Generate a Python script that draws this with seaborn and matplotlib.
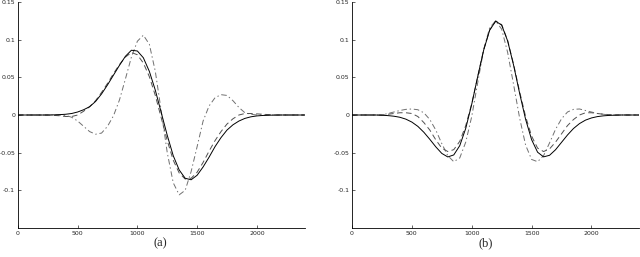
import matplotlib
matplotlib.use('Agg')
import matplotlib.pyplot as plt
import pandas as pd
import numpy as np
import seaborn as sns

# sample positions (every 50 units, 0..2400)
x = np.arange(0, 2401, 50)

# panel (a) curves
a_solid = [0, 0, 0, 0, 0, 0, 0.0002, 0.0005, 0.001, 0.002,
           0.004, 0.007, 0.011, 0.018, 0.028, 0.040, 0.053, 0.066, 0.078, 0.086,
           0.085, 0.076, 0.058, 0.033, 0.003, -0.027, -0.054, -0.073, -0.084, -0.086,
           -0.080, -0.069, -0.056, -0.042, -0.030, -0.020, -0.013, -0.008, -0.0045, -0.0024,
           -0.0012, -0.0006, -0.0003, -0.0001, 0, 0, 0, 0, 0]
a_dashed = [0, 0, 0, 0, 0, 0, -0.0005, -0.001, -0.002, -0.002,
            0.000, 0.005, 0.011, 0.019, 0.030, 0.042, 0.055, 0.067, 0.077, 0.083,
            0.080, 0.069, 0.051, 0.026, -0.004, -0.034, -0.060, -0.077, -0.085, -0.084,
            -0.076, -0.063, -0.048, -0.034, -0.022, -0.012, -0.005, 0.000, 0.002, 0.002,
            0.0015, 0.001, 0.0005, 0, 0, 0, 0, 0, 0]
a_dashdot = [0, 0, 0, 0, 0, 0, 0, 0, -0.0005, -0.003,
             -0.008, -0.015, -0.022, -0.0255, -0.024, -0.015, -0.001, 0.020, 0.048, 0.077,
             0.098, 0.106, 0.094, 0.058, 0.005, -0.050, -0.090, -0.106, -0.100, -0.075,
             -0.042, -0.008, 0.012, 0.023, 0.027, 0.026, 0.019, 0.010, 0.003, 0.001,
             0, 0, 0, 0, 0, 0, 0, 0, 0]

# panel (b) curves
b_solid = [0, 0, 0, 0, 0, -0.0003, -0.0008, -0.0016, -0.003, -0.0055,
           -0.0094, -0.0151, -0.0229, -0.0323, -0.0423, -0.0510, -0.0557, -0.0530, -0.0407, -0.0177,
           0.0143, 0.0511, 0.0863, 0.1127, 0.1246, 0.1194, 0.0983, 0.0659, 0.0288, -0.0058,
           -0.0327, -0.0494, -0.0556, -0.0535, -0.0461, -0.0363, -0.0265, -0.0179, -0.0114, -0.0068,
           -0.0039, -0.0021, -0.0011, -0.0005, -0.0002, 0, 0, 0, 0]
b_dashed = [0, 0, 0, 0, 0, 0, 0.001, 0.002, 0.003, 0.003,
            0.002, -0.002, -0.010, -0.020, -0.033, -0.044, -0.0485, -0.046, -0.035, -0.014,
            0.015, 0.051, 0.087, 0.113, 0.125, 0.120, 0.099, 0.067, 0.031, -0.002,
            -0.028, -0.044, -0.0485, -0.045, -0.036, -0.025, -0.014, -0.006, 0.000, 0.003,
            0.003, 0.002, 0.001, 0.0005, 0, 0, 0, 0, 0]
b_dashdot = [0, 0, 0, 0, 0, 0, 0.002, 0.004, 0.006, 0.0075,
             0.008, 0.007, 0.003, -0.006, -0.020, -0.038, -0.054, -0.062, -0.057, -0.036,
             -0.002, 0.043, 0.087, 0.116, 0.125, 0.114, 0.083, 0.040, -0.004, -0.040,
             -0.059, -0.062, -0.054, -0.037, -0.019, -0.005, 0.004, 0.0075, 0.008, 0.006,
             0.004, 0.002, 0.001, 0, 0, 0, 0, 0, 0]

xticks = [0, 500, 1000, 1500, 2000]
yticks = [-0.1, -0.05, 0, 0.05, 0.1, 0.15]
ylabels = ['-0.1', '-0.05', '0', '0.05', '0.1', '0.15']

sns.set_style('white')
plt.rcParams['lines.scale_dashes'] = False

fig = plt.figure(figsize=(6.4, 2.57), dpi=100)
ax_a = fig.add_axes([0.028, 0.113, 0.448, 0.879])
ax_b = fig.add_axes([0.55, 0.113, 0.449, 0.879])

palette = {'dashdot': '#707070', 'dashed': '#505050', 'solid': 'black'}
dashes = {'dashdot': (4, 2, 1, 2), 'dashed': (4, 2.5), 'solid': ''}


def panel(ax, solid, dashed, dashdot, label, xc):
    df = pd.DataFrame({
        'x': np.concatenate([x, x, x]),
        'y': dashdot + dashed + solid,
        'kind': ['dashdot'] * len(x) + ['dashed'] * len(x) + ['solid'] * len(x),
    })
    sns.lineplot(data=df, x='x', y='y', hue='kind', style='kind',
                 hue_order=['dashdot', 'dashed', 'solid'],
                 style_order=['dashdot', 'dashed', 'solid'],
                 palette=palette, dashes=dashes, linewidth=0.7,
                 legend=False, ax=ax)
    ax.set_xlim(0, 2400)
    ax.set_ylim(-0.15, 0.15)
    ax.set_xticks(xticks)
    ax.set_yticks(yticks)
    ax.set_yticklabels(ylabels)
    ax.set_xlabel('')
    ax.set_ylabel('')
    ax.tick_params(direction='in', length=2.5, width=0.5, labelsize=4.5, pad=2,
                   left=True, bottom=True)
    for s in ['top', 'right']:
        ax.spines[s].set_visible(False)
    for s in ['left', 'bottom']:
        ax.spines[s].set_linewidth(0.6)
        ax.spines[s].set_color('black')
    fig.text(xc, 0.054, label, family='Liberation Serif', fontsize=9,
             ha='center', va='center')


panel(ax_a, a_solid, a_dashed, a_dashdot, '(a)', 0.25)
panel(ax_b, b_solid, b_dashed, b_dashdot, '(b)', 0.759)

fig.savefig('out.png', dpi=100)
